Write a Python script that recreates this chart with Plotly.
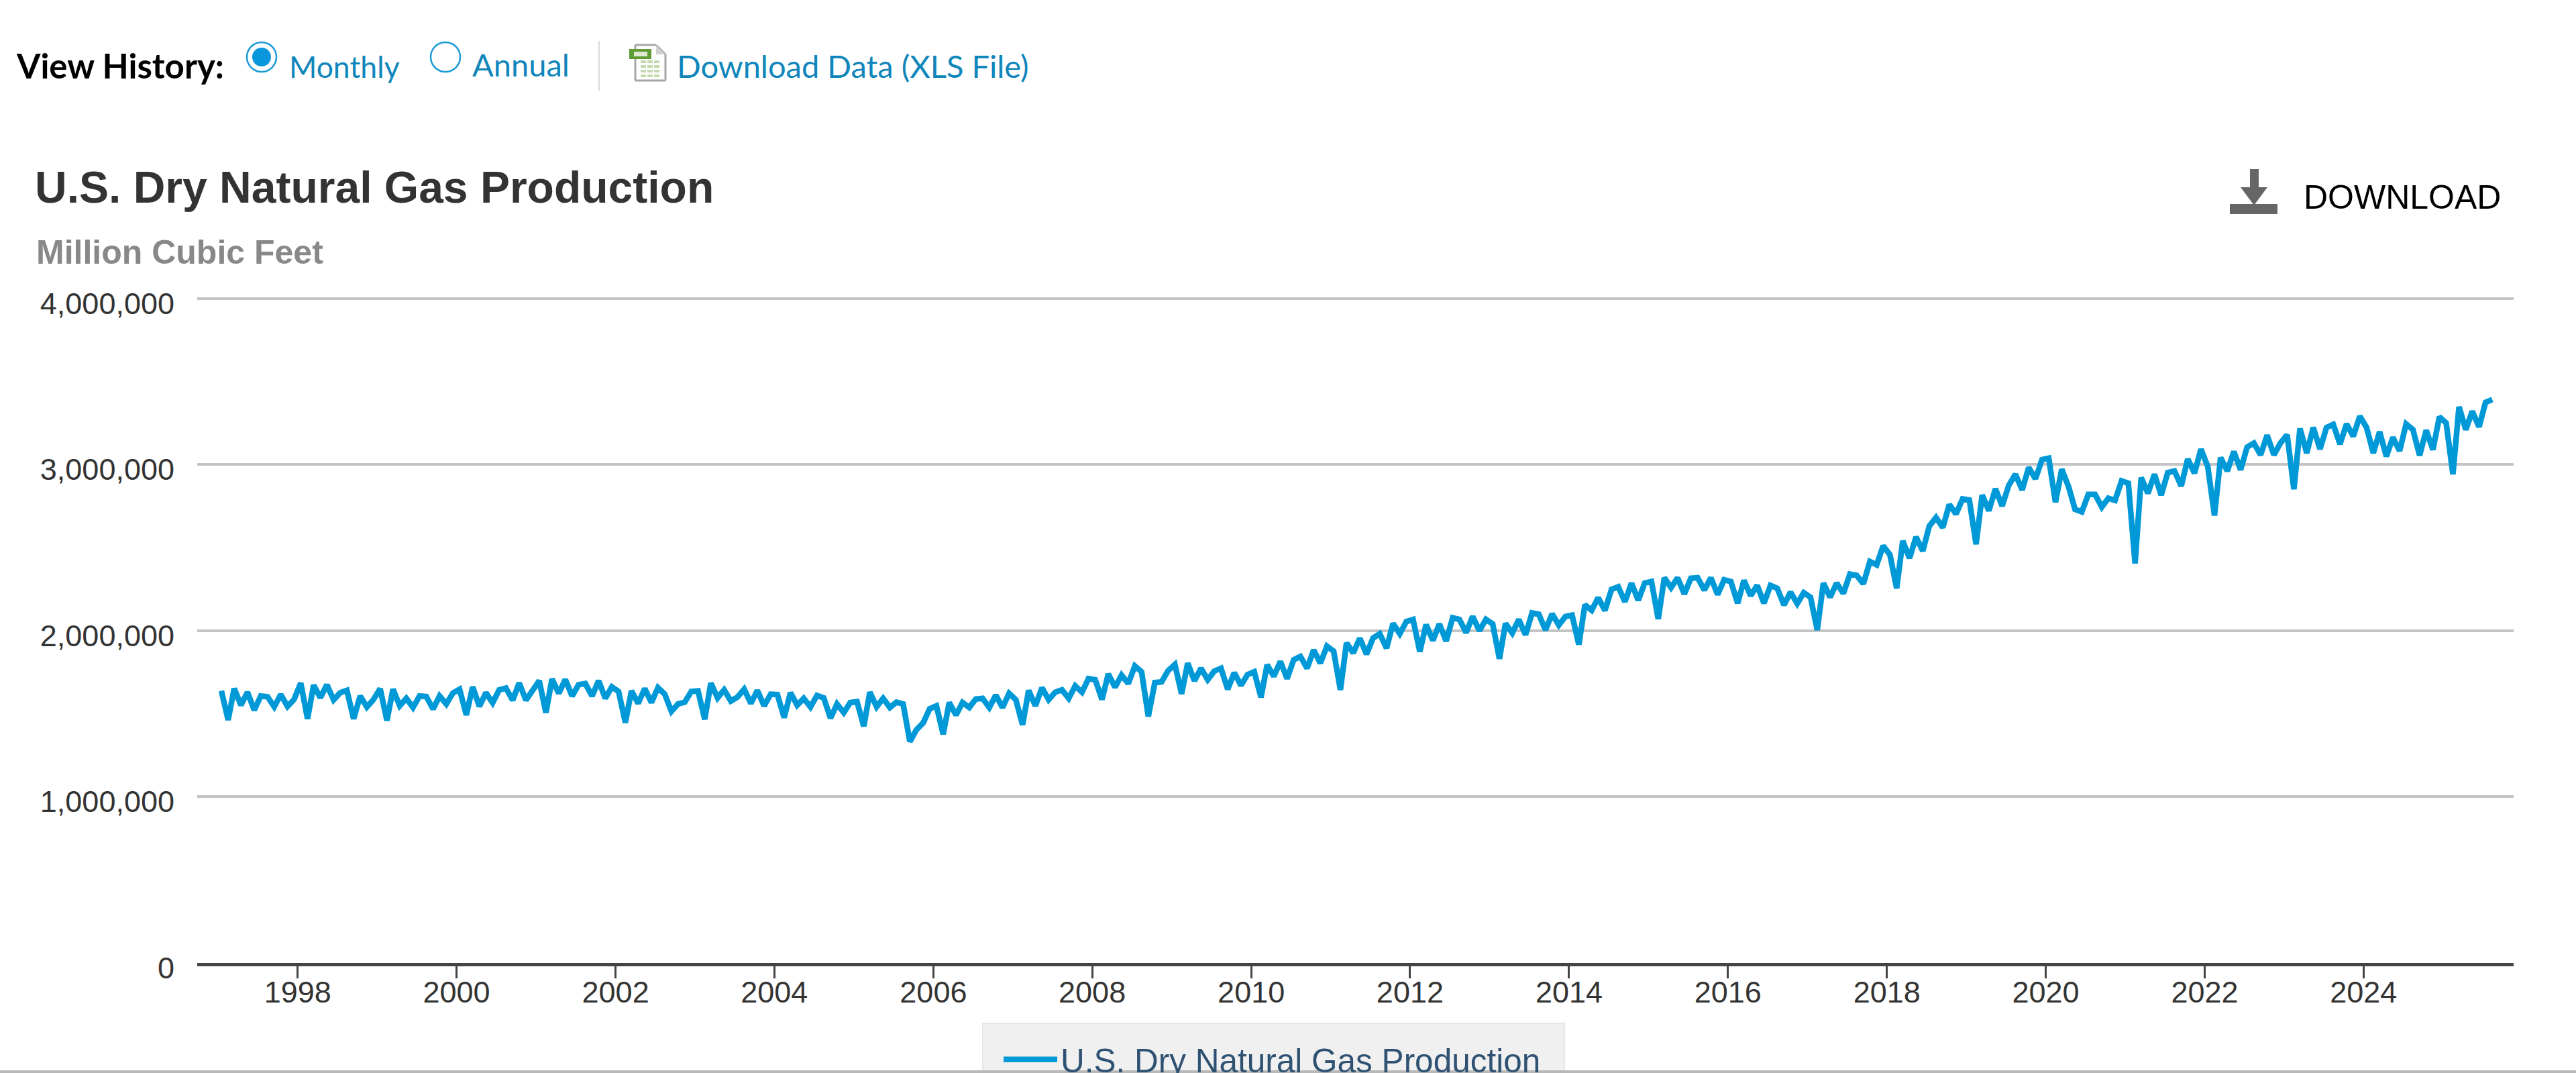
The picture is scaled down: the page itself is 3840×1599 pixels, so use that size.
import pandas as pd
import plotly.graph_objects as go

W, H = 3840, 1599
L, R, T, B = 294, 3747, 440, 1435

series_name = "U.S. Dry Natural Gas Production"
start_month = "1997-01-01"
# Million cubic feet, in thousands
values_k = [
 1638,1463,1652,1552,1630,1522,1607,1603,1542,1616,1545,1586,
 1685,1470,1673,1597,1675,1584,1627,1641,1470,1607,1541,1586,
 1651,1460,1648,1548,1593,1538,1607,1604,1529,1607,1559,1625,
 1648,1493,1662,1545,1627,1566,1644,1655,1582,1686,1582,1641,
 1699,1507,1710,1623,1707,1607,1675,1682,1607,1699,1593,1662,
 1634,1447,1638,1563,1652,1568,1657,1618,1515,1559,1570,1634,
 1638,1467,1685,1596,1644,1577,1600,1648,1563,1641,1548,1618,
 1616,1477,1627,1552,1593,1541,1610,1596,1474,1559,1507,1568,
 1573,1425,1630,1542,1593,1538,1570,1559,1333,1404,1445,1530,
 1548,1377,1568,1493,1568,1538,1589,1593,1538,1612,1538,1623,
 1585,1434,1641,1548,1657,1585,1630,1644,1593,1668,1630,1712,
 1705,1586,1740,1660,1733,1682,1788,1753,1484,1688,1692,1760,
 1797,1620,1805,1699,1774,1705,1757,1774,1648,1747,1671,1736,
 1753,1599,1795,1726,1815,1712,1825,1845,1774,1884,1805,1907,
 1877,1644,1927,1866,1955,1859,1956,1982,1895,2044,1982,2055,
 2068,1874,2037,1942,2041,1938,2078,2068,1989,2086,2000,2068,
 2041,1831,2044,1986,2068,1975,2107,2099,2005,2102,2034,2085,
 2094,1917,2156,2123,2199,2122,2249,2265,2175,2287,2184,2287,
 2296,2071,2319,2260,2319,2222,2316,2319,2245,2319,2218,2307,
 2296,2166,2303,2211,2273,2166,2273,2256,2155,2232,2164,2229,
 2202,2004,2287,2202,2287,2225,2341,2334,2283,2417,2397,2511,
 2458,2256,2541,2437,2565,2480,2630,2682,2622,2760,2703,2794,
 2787,2521,2817,2723,2855,2751,2875,2942,2848,2983,2915,3030,
 3039,2774,2972,2868,2731,2716,2821,2821,2745,2798,2785,2902,
 2888,2405,2922,2828,2942,2817,2952,2962,2871,3034,2949,3093,
 2989,2694,3043,2962,3079,2969,3106,3130,3059,3177,3059,3130,
 3180,2852,3218,3070,3224,3094,3224,3242,3124,3245,3171,3292,
 3224,3070,3198,3050,3164,3083,3245,3211,3056,3207,3090,3288,
 3251,2942,3348,3211,3321,3228,3375,3392,
]
y_ticks = [0, 1000000, 2000000, 3000000, 4000000]
y_tick_labels = ["0", "1,000,000", "2,000,000", "3,000,000", "4,000,000"]
y_range = [0, 4020000]
x_range = ["1996-09-26", "2025-11-21"]

dates = pd.date_range(start_month, periods=len(values_k), freq="MS") + pd.Timedelta(days=14)
values = [v * 1000 for v in values_k]


def px(x):
    return (x - L) / (R - L)


def py(y):
    return (B - y) / (B - T)


def rect(x0, y0, x1, y1, fill, line=None, lw=0):
    return dict(type="rect", xref="paper", yref="paper", x0=px(x0), x1=px(x1), y0=py(y0), y1=py(y1),
                fillcolor=fill, line=dict(color=line or fill, width=lw), layer="above")


def seg(x0, y0, x1, y1, color, lw):
    return dict(type="line", xref="paper", yref="paper", x0=px(x0), x1=px(x1), y0=py(y0), y1=py(y1),
                line=dict(color=color, width=lw), layer="above")


def circle(cx, cy, r, fill, line, lw):
    return dict(type="circle", xref="paper", yref="paper", x0=px(cx - r), x1=px(cx + r), y0=py(cy + r), y1=py(cy - r),
                fillcolor=fill, line=dict(color=line, width=lw), layer="above")


def poly(points, fill):
    d = "M " + " L ".join(f"{px(a):.5f},{py(b):.5f}" for a, b in points) + " Z"
    return dict(type="path", xref="paper", yref="paper", path=d, fillcolor=fill, line=dict(width=0), layer="above")


def label(text, x, y, size, color, family="Liberation Sans", anchor="left"):
    return dict(text=text, x=px(x), y=py(y), xref="paper", yref="paper", xanchor=anchor, yanchor="middle",
                showarrow=False, font=dict(size=size, color=color, family=family))


BLUE = "#0f86bb"
GREY = "#a6a6a6"
shapes = [
    # clipped legend panel and page rule
    rect(1465, 1525, 2332, 1600, "#f0f0f0", "#e6e6e6", 2),
    seg(0, 1597, W, 1597, "#b8b8b8", 4),
    # radio buttons
    circle(390, 85, 22, "#ffffff", "#1a9ad6", 2.5),
    circle(390, 85, 14, "#0a96dc", "#0a96dc", 0),
    circle(664, 85, 22, "#ffffff", "#1a9ad6", 2.5),
    # separator
    seg(893, 61, 893, 135, "#d9d9d9", 2),
    # spreadsheet icon
    poly([(947, 67), (978, 67), (992, 81), (992, 120), (947, 120)], "#ffffff"),
    seg(947, 67, 978, 67, GREY, 3),
    seg(947, 67, 947, 120, GREY, 3),
    seg(992, 81, 992, 120, GREY, 3),
    seg(947, 120, 992, 120, GREY, 3),
    seg(978, 67, 992, 81, GREY, 3),
    poly([(978, 67), (992, 81), (978, 81)], "#d0d0d0"),
]
for cell_x in (955, 965, 975):
    for cell_y in (90, 97, 104, 111):
        shapes.append(rect(cell_x, cell_y, cell_x + 8, cell_y + 4, "#c5d9ae"))
shapes += [
    rect(938, 73, 971, 88, "#5f9c34"),
    rect(945, 77, 965, 84, "#dfe9d2"),
    # download arrow
    rect(3324, 304, 3395, 319, "#666666"),
    rect(3354, 252, 3367, 282, "#666666"),
    poly([(3340, 279), (3380, 279), (3360, 306)], "#666666"),
]

annotations = [
    label("<b>View History:</b>", 22, 97, 51, "#000000", "Lato"),
    label("Monthly", 429, 98, 44.5, BLUE, "Lato"),
    label("Annual", 702, 96, 47, BLUE, "Lato"),
    label("Download Data (XLS File)", 1007, 98, 47, BLUE, "Lato"),
    label("<b>U.S. Dry Natural Gas Production</b>", 50, 279, 66, "#333333"),
    label("<b>Million Cubic Feet</b>", 52, 376, 50, "#888888"),
    label("DOWNLOAD", 3432, 294, 50, "#000000"),
]

fig = go.Figure()
fig.add_trace(go.Scatter(x=dates, y=values, mode="lines", name=series_name,
                         line=dict(color="#0099d8", width=8.5), showlegend=True))

fig.update_layout(
    width=W, height=H,
    margin=dict(l=L, r=W - R, t=T, b=H - B, autoexpand=False),
    plot_bgcolor="#ffffff", paper_bgcolor="#ffffff",
    font=dict(family="Liberation Sans", size=45, color="#333333"),
    shapes=shapes, annotations=annotations,
    legend=dict(x=px(1491), y=py(1540), xanchor="left", yanchor="top", bgcolor="rgba(0,0,0,0)",
                borderwidth=0, itemwidth=80, font=dict(size=49.5, color="#2f5273", family="Liberation Sans")),
    xaxis=dict(type="date", range=x_range, tick0="1998-01-01", dtick="M24", tickformat="%Y",
               showgrid=False, zeroline=False, showline=True, linecolor="#444444", linewidth=5,
               ticks="outside", ticklen=18, tickwidth=3, tickcolor="#444444",
               ticklabelstandoff=-18,
               tickfont=dict(size=45, color="#333333")),
    yaxis=dict(range=y_range, tickvals=y_ticks, ticktext=y_tick_labels, showgrid=True,
               gridcolor="#c4c4c4", gridwidth=4, zeroline=False, showline=False, ticks="",
               ticklabelstandoff=33, ticklabelshift=7,
               tickfont=dict(size=45, color="#333333")),
)

fig.write_html("out.html", config={"displayModeBar": False},
               post_script="document.body.style.margin='0';document.body.style.overflow='hidden';")
